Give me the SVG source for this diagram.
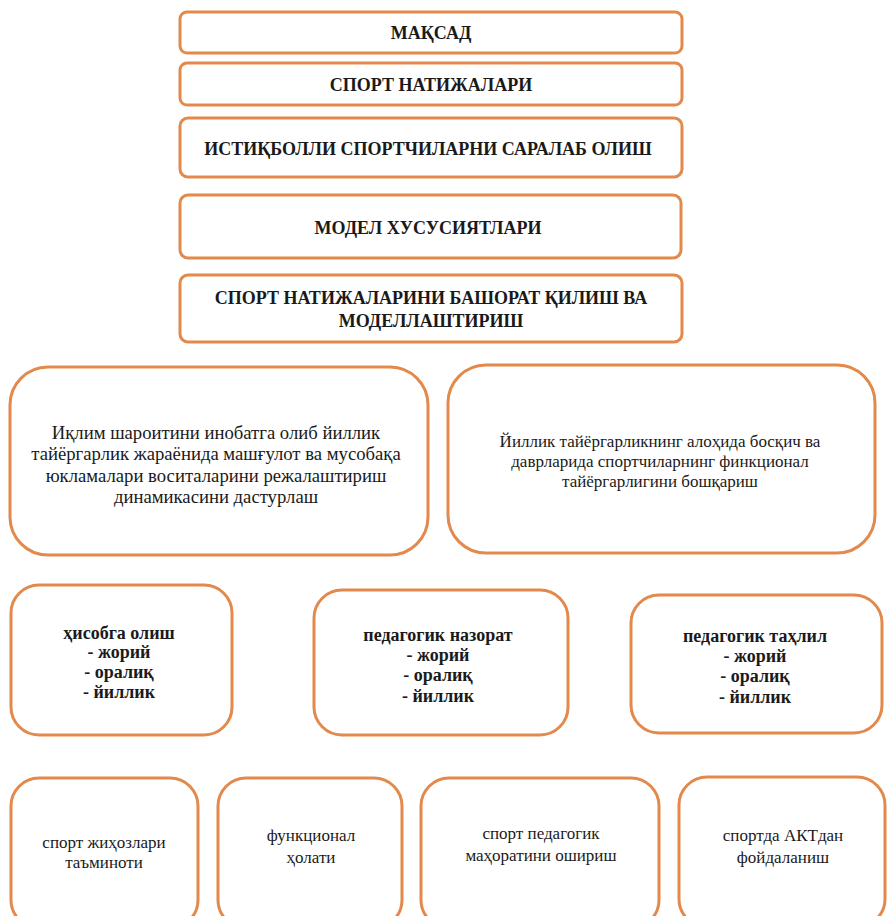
<svg xmlns="http://www.w3.org/2000/svg" width="887" height="916" viewBox="0 0 887 916">
<style>
.b{fill:#fff;stroke:#e3894c;stroke-width:3}
.h{font-family:"Liberation Serif","Times New Roman",serif;font-weight:bold;font-size:18px;fill:#1a1a1a;text-anchor:middle}
.t{font-family:"Liberation Serif","Times New Roman",serif;font-size:18.7px;fill:#1a1a1a;text-anchor:middle}
.u{font-family:"Liberation Serif","Times New Roman",serif;font-size:17px;fill:#1a1a1a;text-anchor:middle}
.s{font-family:"Liberation Serif","Times New Roman",serif;font-weight:bold;font-size:18px;fill:#1a1a1a;text-anchor:middle}
.r{font-family:"Liberation Serif","Times New Roman",serif;font-size:17px;fill:#1a1a1a;text-anchor:middle}
</style>
<rect width="887" height="916" fill="#fff"/>
<g id="n1"><rect class="b" x="180" y="12" width="502" height="41" rx="7"/><text class="h" x="431" y="39">МАҚСАД</text></g>
<g id="n2"><rect class="b" x="180" y="63" width="502" height="42" rx="7"/><text class="h" x="431" y="91">СПОРТ НАТИЖАЛАРИ</text></g>
<g id="n3"><rect class="b" x="180" y="118" width="502" height="59" rx="8"/><text class="h" x="428" y="155">ИСТИҚБОЛЛИ СПОРТЧИЛАРНИ САРАЛАБ ОЛИШ</text></g>
<g id="n4"><rect class="b" x="180" y="195" width="501" height="63" rx="8"/><text class="h" x="428" y="234">МОДЕЛ ХУСУСИЯТЛАРИ</text></g>
<g id="n5"><rect class="b" x="180" y="275" width="502" height="67" rx="8"/><text class="h" x="431" y="304">СПОРТ НАТИЖАЛАРИНИ БАШОРАТ ҚИЛИШ ВА</text><text class="h" x="431" y="327">МОДЕЛЛАШТИРИШ</text></g>
<g id="n6"><rect class="b" x="10" y="367" width="418" height="188" rx="38"/><text class="t" x="216" y="439">Иқлим шароитини инобатга олиб йиллик</text><text class="t" x="216" y="460">тайёргарлик жараёнида машғулот ва мусобақа</text><text class="t" x="216" y="482">юкламалари воситаларини режалаштириш</text><text class="t" x="216" y="503">динамикасини дастурлаш</text></g>
<g id="n7"><rect class="b" x="448" y="365" width="427" height="188" rx="38"/><text class="u" x="660" y="447">Йиллик тайёргарликнинг алоҳида босқич ва</text><text class="u" x="660" y="467">даврларида спортчиларнинг финкционал</text><text class="u" x="660" y="487">тайёргарлигини бошқариш</text></g>
<g id="n8"><rect class="b" x="11" y="585" width="221" height="150" rx="28"/><text class="s" x="119" y="639">ҳисобга олиш</text><text class="s" x="119" y="658">- жорий</text><text class="s" x="119" y="678">- оралиқ</text><text class="s" x="119" y="698">- йиллик</text></g>
<g id="n9"><rect class="b" x="314" y="590" width="254" height="145" rx="28"/><text class="s" x="438" y="641">педагогик назорат</text><text class="s" x="438" y="661">- жорий</text><text class="s" x="438" y="681">- оралиқ</text><text class="s" x="438" y="702">- йиллик</text></g>
<g id="n10"><rect class="b" x="631" y="595" width="251" height="138" rx="28"/><text class="s" x="755" y="642">педагогик таҳлил</text><text class="s" x="755" y="662">- жорий</text><text class="s" x="755" y="682">- оралиқ</text><text class="s" x="755" y="703">- йиллик</text></g>
<g id="n11"><rect class="b" x="11" y="778" width="187" height="150" rx="28"/><text class="r" x="104" y="848">спорт жиҳозлари</text><text class="r" x="104" y="868">таъминоти</text></g>
<g id="n12"><rect class="b" x="218" y="778" width="184" height="150" rx="28"/><text class="r" x="311" y="841">функционал</text><text class="r" x="311" y="863">ҳолати</text></g>
<g id="n13"><rect class="b" x="421" y="778" width="238" height="150" rx="28"/><text class="r" x="541" y="839">спорт педагогик</text><text class="r" x="541" y="861">маҳоратини ошириш</text></g>
<g id="n14"><rect class="b" x="679" y="777" width="206" height="150" rx="28"/><text class="r" x="783" y="841">спортда АКТдан</text><text class="r" x="783" y="863">фойдаланиш</text></g>
<g id="connectors"></g>
</svg>
